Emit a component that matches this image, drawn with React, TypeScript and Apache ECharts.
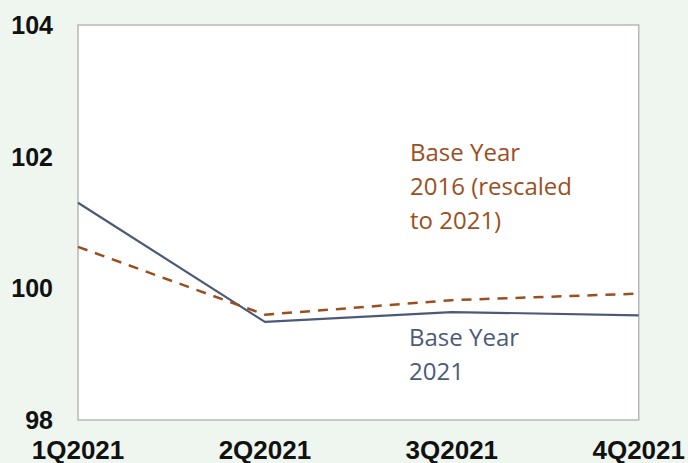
import React, { useEffect, useRef } from "react";
import * as echarts from "echarts";

const categories = ["1Q2021", "2Q2021", "3Q2021", "4Q2021"];
const baseYear2021 = [101.3, 99.49, 99.64, 99.59];
const baseYear2016Rescaled = [100.63, 99.6, 99.82, 99.92];
const yTicks = { min: 98, max: 104, interval: 2 };

export default function App() {
  const ref = useRef<HTMLDivElement>(null);
  useEffect(() => {
    if (!ref.current) return;
    const chart = echarts.init(ref.current, undefined, { renderer: "svg" });
    chart.setOption({
      animation: false,
      backgroundColor: "#eef6ef",
      grid: {
        left: 78,
        right: 47,
        top: 25,
        bottom: 41,
        show: true,
        backgroundColor: "#ffffff",
        borderColor: "#b8b8b8",
        borderWidth: 1.5,
      },
      xAxis: {
        type: "category",
        data: categories,
        boundaryGap: false,
        axisLine: { show: false },
        axisTick: { show: false },
        splitLine: { show: false },
        axisLabel: {
          color: "#111",
          fontFamily: "Liberation Sans, Arial, sans-serif",
          fontWeight: "bold",
          fontSize: 26,
          margin: 17,
          showMinLabel: true,
          showMaxLabel: true,
          interval: 0,
        },
      },
      yAxis: {
        type: "value",
        min: yTicks.min,
        max: yTicks.max,
        interval: yTicks.interval,
        axisLine: { show: false },
        axisTick: { show: false },
        splitLine: { show: false },
        axisLabel: {
          color: "#111",
          fontFamily: "Liberation Sans, Arial, sans-serif",
          fontWeight: "bold",
          fontSize: 25,
          margin: 25,
        },
      },
      series: [
        {
          name: "Base Year 2016 (rescaled to 2021)",
          type: "line",
          data: baseYear2016Rescaled,
          symbol: "none",
          lineStyle: { color: "#9c4f1e", width: 2.5, type: [10, 8] },
          z: 3,
        },
        {
          name: "Base Year 2021",
          type: "line",
          data: baseYear2021,
          symbol: "none",
          lineStyle: { color: "#4c5a78", width: 2.2 },
          z: 2,
        },
      ],
      graphic: [
        {
          type: "text",
          left: 410,
          top: 134,
          style: {
            text: "Base Year\n2016 (rescaled\nto 2021)",
            fill: "#9c4f1e",
            font: "24px 'Open Sans', sans-serif",
            lineHeight: 34,
          },
        },
        {
          type: "text",
          left: 409,
          top: 319,
          style: {
            text: "Base Year\n2021",
            fill: "#4c5a78",
            font: "24px 'Open Sans', sans-serif",
            lineHeight: 34,
          },
        },
      ],
    });
    return () => chart.dispose();
  }, []);
  return (
    <div
      ref={ref}
      style={{ position: "fixed", left: 0, top: 0, width: 688, height: 463 }}
    />
  );
}
